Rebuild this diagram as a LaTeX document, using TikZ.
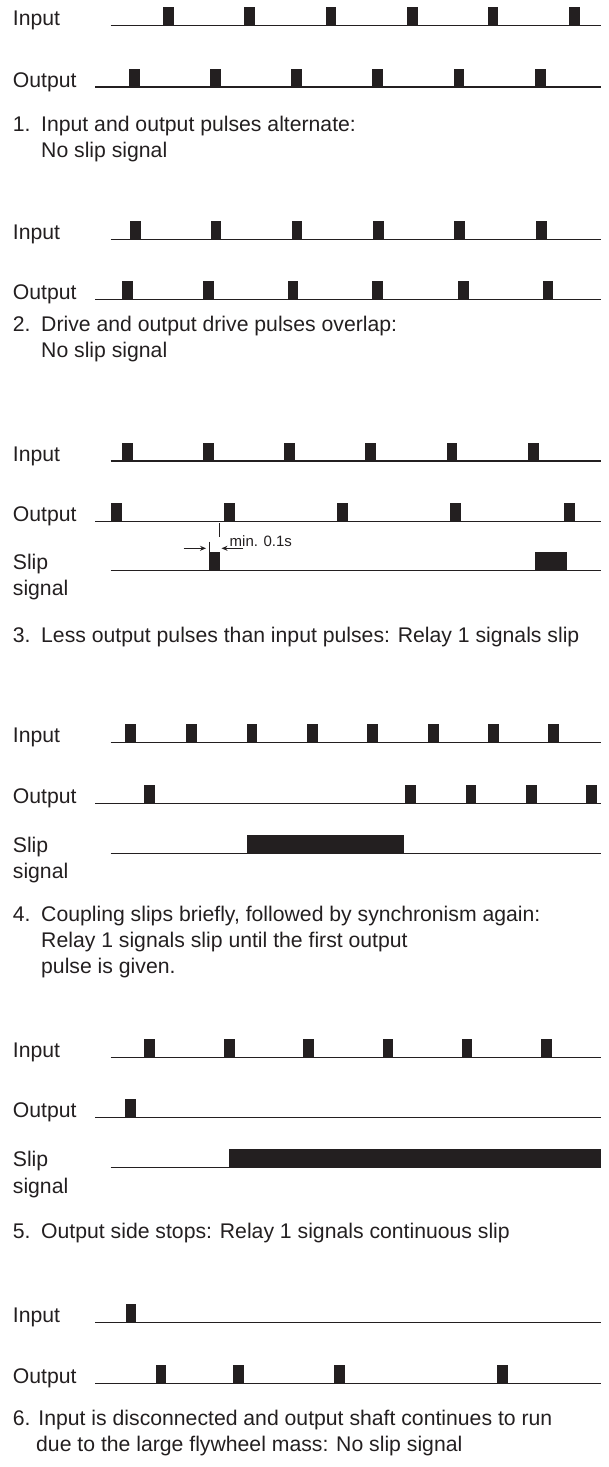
\documentclass[tikz,border=0pt]{standalone}
\usepackage{fontspec}
\setmainfont{Liberation Sans}
\usetikzlibrary{arrows.meta}
\definecolor{ink}{RGB}{35,31,32}
\newcommand\plsrow[2]{\foreach \px in {#2} {\fill[ink] (\px,#1) rectangle ++(10.8,-18.5);}}
\begin{document}
\begin{tikzpicture}[x=1pt,y=-1pt,
  sig/.style={draw=ink,line width=1.2pt},
  lbl/.style={anchor=base west,inner sep=0pt,font=\fontsize{21.2}{25}\selectfont,text=ink},
  capt/.style={anchor=base west,inner sep=0pt,font=\fontsize{21.2}{25}\selectfont,text=ink},
  small/.style={anchor=base west,inner sep=0pt,font=\fontsize{15}{18}\selectfont,text=ink},
  tickline/.style={draw=ink,line width=1pt},
  arr/.style={draw=ink,line width=1pt,-{Stealth[length=6pt,width=5pt]}}
]
\useasboundingbox (0,0) rectangle (608,1467);

% ---------- Section 1
\node[lbl] (in1) at (12.7,25.7) {Input};
\draw[sig] (110.5,25.7) -- (601,25.7);
\plsrow{25.7}{162.8,244,325.6,407,487.6,569}
\node[lbl] (out1) at (12.7,87) {Output};
\draw[sig] (95,87) -- (601,87);
\plsrow{87}{128.7,210,290.7,372,453.5,535}
\node[capt] (c1n) at (12.7,131) {1.};
\node[capt] (c1a) at (41,131) {Input and output pulses alternate:};
\node[capt] (c1b) at (41,157) {No slip signal};

% ---------- Section 2
\node[lbl] (in2) at (12.7,239.3) {Input};
\draw[sig] (110.5,239.3) -- (601,239.3);
\plsrow{239.3}{130,210.5,291.5,373,454,535.7}
\node[lbl] (out2) at (12.7,299.3) {Output};
\draw[sig] (95,299.3) -- (601,299.3);
\plsrow{299.3}{121.7,203,287.6,372,458,542.6}
\node[capt] (c2n) at (12.7,331) {2.};
\node[capt] (c2a) at (41,331) {Drive and output drive pulses overlap:};
\node[capt] (c2b) at (41,357) {No slip signal};

% ---------- Section 3
\node[lbl] (in3) at (12.7,461) {Input};
\draw[sig] (110.5,461) -- (601,461);
\plsrow{461}{122,203,284,365,446.5,528}
\node[lbl] (out3) at (12.7,521.3) {Output};
\draw[sig] (95,521.7) -- (601,521.7);
\plsrow{521.7}{111,224,337,450,564}
\node[lbl] (slip3) at (12.7,569.8) {Slip};
\node[lbl] (sig3) at (12.7,595.7) {signal};
\draw[sig] (110.5,570.7) -- (601,570.7);
\plsrow{570.7}{209.3}
\fill[ink] (535,570.7) rectangle (566.7,552.2);
% min. 0.1s marker
\coordinate (tickT) at (219.2,523);
\coordinate (tickB) at (219.2,536.5);
\coordinate (edgeT) at (209.8,541.5);
\coordinate (edgeB) at (209.8,553);
\coordinate (ra0) at (183.5,548.3);
\coordinate (ra1) at (206,548.3);
\coordinate (la0) at (243,548.3);
\coordinate (la1) at (221.5,548.3);
\draw[tickline] (tickT) -- (tickB);
\draw[tickline] (edgeT) -- (edgeB);
\draw[arr] (ra0) -- (ra1);
\draw[arr] (la0) -- (la1);
\node[small] (minlbl) at (229.5,546) {min. 0.1s};
\node[capt] (c3n) at (12.7,642) {3.};
\node[capt] (c3a) at (41,642) {Less output pulses than input pulses: Relay 1 signals slip};

% ---------- Section 4
\node[lbl] (in4) at (12.7,742.7) {Input};
\draw[sig] (110.5,742.7) -- (601,742.7);
\plsrow{742.7}{125,186,246.5,307,367,428,488,548.4}
\node[lbl] (out4) at (12.7,803.3) {Output};
\draw[sig] (95,803.3) -- (601,803.3);
\plsrow{803.3}{144,405,465.5,526,586.4}
\node[lbl] (slip4) at (12.7,852.5) {Slip};
\node[lbl] (sig4) at (12.7,878.5) {signal};
\draw[sig] (110.5,853.3) -- (601,853.3);
\fill[ink] (246.5,853.3) rectangle (404,834.8);
\node[capt] (c4n) at (12.7,921) {4.};
\node[capt] (c4a) at (41,921) {Coupling slips briefly, followed by synchronism again:};
\node[capt] (c4b) at (41,947) {Relay 1 signals slip until the first output};
\node[capt] (c4c) at (41,973) {pulse is given.};

% ---------- Section 5
\node[lbl] (in5) at (12.7,1057.7) {Input};
\draw[sig] (110.5,1057.7) -- (601,1057.7);
\plsrow{1057.7}{144,224,302.7,382.5,461.6,541}
\node[lbl] (out5) at (12.7,1117.7) {Output};
\draw[sig] (95,1117.7) -- (601,1117.7);
\plsrow{1117.7}{124.8}
\node[lbl] (slip5) at (12.7,1166.5) {Slip};
\node[lbl] (sig5) at (12.7,1193.3) {signal};
\draw[sig] (110.5,1167.7) -- (601,1167.7);
\fill[ink] (229.3,1167.7) rectangle (601,1149.3);
\node[capt] (c5n) at (12.7,1238.3) {5.};
\node[capt] (c5a) at (41,1238.3) {Output side stops: Relay 1 signals continuous slip};

% ---------- Section 6
\node[lbl] (in6) at (12.7,1322.7) {Input};
\draw[sig] (95,1322.7) -- (601,1322.7);
\plsrow{1322.7}{125.5}
\node[lbl] (out6) at (12.7,1383.3) {Output};
\draw[sig] (95,1383.3) -- (601,1383.3);
\plsrow{1383.3}{155.5,232.7,334,497}
\node[capt] (c6a) at (12.7,1425) {6. Input is disconnected and output shaft continues to run};
\node[capt] (c6b) at (36,1451) {due to the large flywheel mass: No slip signal};
\end{tikzpicture}
\end{document}
